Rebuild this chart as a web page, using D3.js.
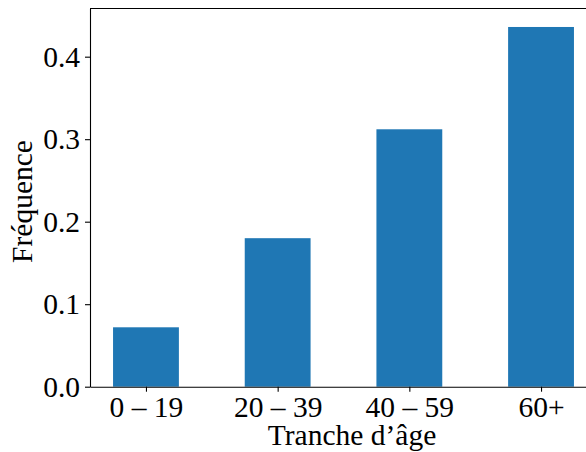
<!DOCTYPE html>
<html>
<head>
<meta charset="utf-8">
<script src="https://cdn.jsdelivr.net/npm/d3@7"></script>
<style>
  body { margin: 0; background: #fff; }
  svg { display: block; }
  .axis text { font-family: "Liberation Serif", "DejaVu Serif", serif; font-size: 29.5px; fill: #000; }
  .axis path, .axis line { stroke: #000; stroke-width: 1.1; }
  .label { font-family: "Liberation Serif", "DejaVu Serif", serif; font-size: 29.5px; fill: #000; }
</style>
</head>
<body>
<div id="chart"></div>
<script>
var categories = ["0 \u2013 19", "20 \u2013 39", "40 \u2013 59", "60+"];
var values = [0.072, 0.180, 0.312, 0.436];
var yTicks = [0.0, 0.1, 0.2, 0.3, 0.4];

var width = 586, height = 452;
var margin = { left: 90, top: 8.5, right: -11, bottom: 65.3 };
var plotRight = width - margin.right;
var plotBottom = height - margin.bottom;

var svg = d3.select("#chart").append("svg")
    .attr("width", width)
    .attr("height", height);

// bar centres at 0..3, width 0.5, matplotlib 5% margins
var x = d3.scaleLinear()
    .domain([-0.425, categories.length - 1 + 0.425])
    .range([margin.left, plotRight]);

var y = d3.scaleLinear()
    .domain([0, 0.4584])
    .range([plotBottom, margin.top]);

svg.selectAll("rect.bar")
    .data(values)
    .enter().append("rect")
    .attr("class", "bar")
    .attr("x", function(d, i) { return x(i - 0.25); })
    .attr("width", function() { return x(0.25) - x(-0.25); })
    .attr("y", function(d) { return y(d); })
    .attr("height", function(d) { return plotBottom - y(d); })
    .attr("fill", "#1f77b4");

var xAxis = d3.axisBottom(x)
    .tickValues(d3.range(categories.length))
    .tickFormat(function(d) { return categories[d]; })
    .tickSizeInner(5)
    .tickSizeOuter(0)
    .tickPadding(5);

var yAxis = d3.axisLeft(y)
    .tickValues(yTicks)
    .tickFormat(d3.format(".1f"))
    .tickSizeInner(5)
    .tickSizeOuter(0)
    .tickPadding(5);

svg.append("g")
    .attr("class", "axis x")
    .attr("transform", "translate(0," + plotBottom + ")")
    .call(xAxis)
    .selectAll("text").attr("y", 30).attr("dy", 0);

svg.append("g")
    .attr("class", "axis y")
    .attr("transform", "translate(" + margin.left + ",0)")
    .call(yAxis);

// top and right spines
svg.append("line")
    .attr("x1", margin.left).attr("x2", plotRight)
    .attr("y1", margin.top).attr("y2", margin.top)
    .attr("stroke", "#000").attr("stroke-width", 1.1);
svg.append("line")
    .attr("x1", plotRight).attr("x2", plotRight)
    .attr("y1", margin.top).attr("y2", plotBottom)
    .attr("stroke", "#000").attr("stroke-width", 1.1);

svg.append("text")
    .attr("class", "label")
    .attr("x", 352)
    .attr("y", 445)
    .attr("text-anchor", "middle")
    .text("Tranche d\u2019\u00e2ge");

svg.append("text")
    .attr("class", "label")
    .attr("transform", "translate(32,201.5) rotate(-90)")
    .attr("text-anchor", "middle")
    .text("Fr\u00e9quence");
</script>
</body>
</html>
